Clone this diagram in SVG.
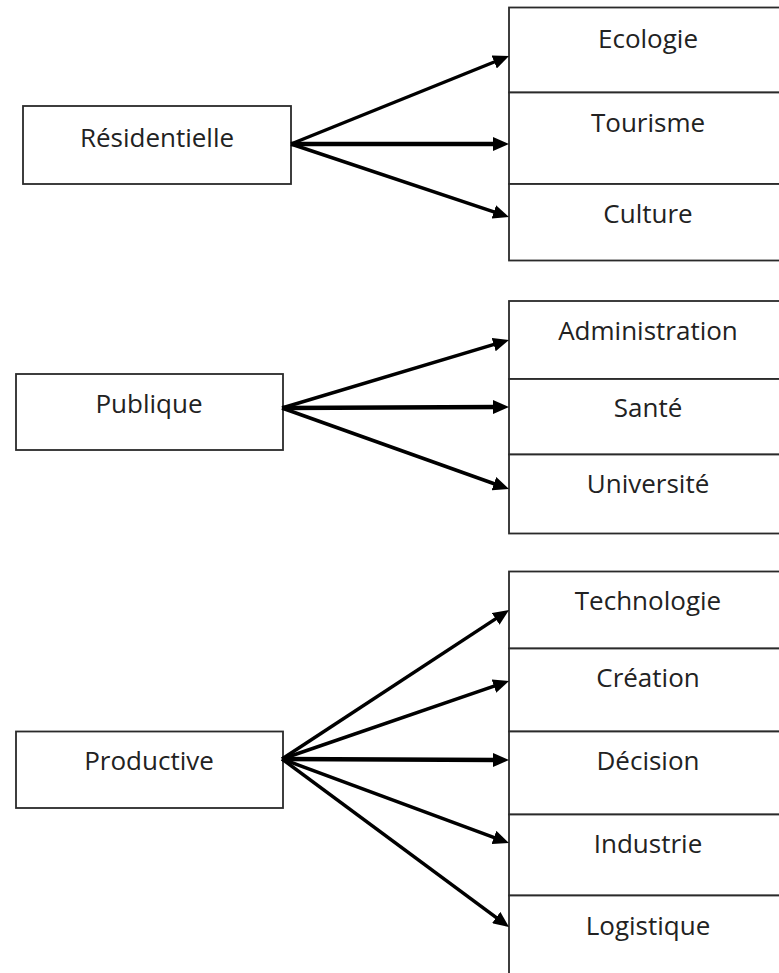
<svg xmlns="http://www.w3.org/2000/svg" width="779" height="973" viewBox="0 0 779 973">
  <defs>
    <marker id="arrow" viewBox="0 0 16 14" markerWidth="16" markerHeight="14" refX="4" refY="7" orient="auto" markerUnits="userSpaceOnUse">
      <path d="M0,0 L16,7 L0,14 z" fill="#000"/>
    </marker>
  </defs>
  <style>
    .box { fill: #fff; stroke: #2a2a2a; stroke-width: 1.8; }
    .lbl { font-family: "Open Sans", "Noto Sans", "Liberation Sans", sans-serif; font-size: 26px; fill: #222; text-anchor: middle; }
    .conn { stroke: #000; stroke-width: 3.5; fill: none; marker-end: url(#arrow); }
    .conn.h { stroke-width: 4.5; }
  </style>
  <rect x="0" y="0" width="779" height="973" fill="#fff"/>

  <!-- Group 1 -->
  <g id="residentielle">
    <rect class="box" x="23" y="106" width="268" height="78"/>
    <text class="lbl" x="157" y="147">Résidentielle</text>
  </g>
  <g id="ecologie">
    <rect class="box" x="509" y="7.5" width="300" height="85"/>
    <text class="lbl" x="648" y="48">Ecologie</text>
  </g>
  <g id="tourisme">
    <rect class="box" x="509" y="92.5" width="300" height="91.5"/>
    <text class="lbl" x="648" y="132">Tourisme</text>
  </g>
  <g id="culture">
    <rect class="box" x="509" y="184" width="300" height="76.5"/>
    <text class="lbl" x="648" y="223">Culture</text>
  </g>

  <!-- Group 2 -->
  <g id="publique">
    <rect class="box" x="16" y="374" width="267" height="76"/>
    <text class="lbl" x="149" y="413">Publique</text>
  </g>
  <g id="administration">
    <rect class="box" x="509" y="301" width="300" height="78"/>
    <text class="lbl" x="648" y="340">Administration</text>
  </g>
  <g id="sante">
    <rect class="box" x="509" y="379" width="300" height="75.5"/>
    <text class="lbl" x="648" y="417">Santé</text>
  </g>
  <g id="universite">
    <rect class="box" x="509" y="454.5" width="300" height="79"/>
    <text class="lbl" x="648" y="493">Université</text>
  </g>

  <!-- Group 3 -->
  <g id="productive">
    <rect class="box" x="16" y="731.5" width="267" height="76.5"/>
    <text class="lbl" x="149" y="770">Productive</text>
  </g>
  <g id="technologie">
    <rect class="box" x="509" y="571.5" width="300" height="77"/>
    <text class="lbl" x="648" y="610">Technologie</text>
  </g>
  <g id="creation">
    <rect class="box" x="509" y="648.5" width="300" height="83"/>
    <text class="lbl" x="648" y="687">Création</text>
  </g>
  <g id="decision">
    <rect class="box" x="509" y="731.5" width="300" height="83"/>
    <text class="lbl" x="648" y="770">Décision</text>
  </g>
  <g id="industrie">
    <rect class="box" x="509" y="814.5" width="300" height="81"/>
    <text class="lbl" x="648" y="853">Industrie</text>
  </g>
  <g id="logistique">
    <rect class="box" x="509" y="895.5" width="300" height="100"/>
    <text class="lbl" x="648" y="935">Logistique</text>
  </g>

  <!-- Connectors -->
  <g id="connectors">
    <line class="conn" x1="291" y1="144" x2="497.9" y2="60.5"/>
    <line class="conn h" x1="291" y1="144" x2="497" y2="144"/>
    <line class="conn" x1="291" y1="144" x2="497.6" y2="213.2"/>

    <line class="conn" x1="282" y1="408" x2="497.5" y2="343.4"/>
    <line class="conn h" x1="282" y1="408" x2="497" y2="407"/>
    <line class="conn" x1="282" y1="408" x2="497.7" y2="485"/>

    <line class="conn" x1="282" y1="759" x2="499" y2="616.6"/>
    <line class="conn" x1="282" y1="759" x2="497.7" y2="684.9"/>
    <line class="conn h" x1="282" y1="759" x2="497" y2="760"/>
    <line class="conn" x1="282" y1="759" x2="497.7" y2="838.8"/>
    <line class="conn" x1="282" y1="759" x2="499.4" y2="919.9"/>
  </g>
</svg>
